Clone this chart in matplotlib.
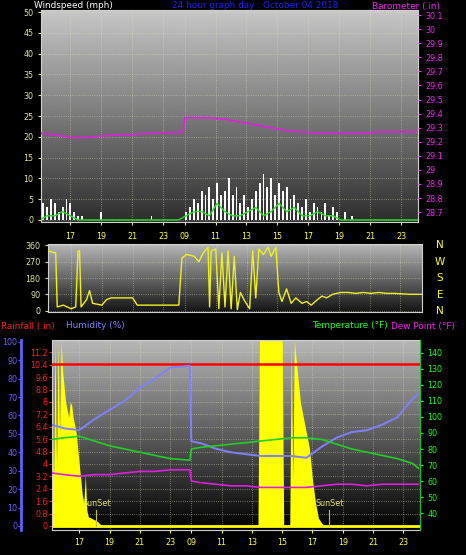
import numpy as np
import matplotlib
matplotlib.use("Agg")
import matplotlib.pyplot as plt

# ---------------- data ----------------
tick_pos = [0, 2, 4, 6, 7.4, 9.4, 11.4, 13.4, 15.4, 17.4, 19.4, 21.4]
tick_lbl = ["17", "19", "21", "23", "09", "11", "13", "15", "17", "19", "21", "23"]
baro_ticks = [28.7, 28.8, 28.9, 29.0, 29.1, 29.2, 29.3, 29.4, 29.5, 29.6, 29.7, 29.8, 29.9, 30.0, 30.1]
baro_lbls = ["28.7", "28.8", "28.9", "29", "29.1", "29.2", "29.3", "29.4", "29.5", "29.6", "29.7",
             "29.8", "29.9", "30", "30.1"]
rain_ticks = [0, 0.8, 1.6, 2.4, 3.2, 4.0, 4.8, 5.6, 6.4, 7.2, 8.0, 8.8, 9.6, 10.4, 11.2]
rain_lbls = ["0", "0.8", "1.6", "2.4", "3.2", "4", "4.8", "5.6", "6.4", "7.2", "8", "8.8", "9.6",
             "10.4", "11.2"]

wind_t = np.arange(-2.0, 22.51, 0.25)
gust = [0,4,3,5, 4,2,3,5, 4,2,1,1, 0,0,0,0, 2,0,0,0, 0,0,0,0, 0,0,0,0, 0,1,0,0,
        0,0,0,0, 0,0,2,3, 5,4,7,6, 8,5,9,6, 7,10,6,8, 4,6,3,5, 7,9,11,8, 10,6,9,7,
        8,5,6,4, 3,5,2,4, 3,2,4,1, 3,2,0,2, 0,1,0,0, 0,0,0,0, 0,0,0,0, 0,0,0,0, 0,0,0]
avg_t = np.arange(-2.0, 22.51, 0.5)
avg = [0,1,1,2,1,0,0,0,0,0,0,0,0,0,0,0,0,0,0,1,2,2,1,4,2,1,1,2,3,1,2,4,2,3,1,1,2,1,1,0,0,0,0,0,0,0,0,0,0,0]

baro_t = [-1.9,-1,0,1,2,3,4,5,6,7.3,7.4,8,9,10,11,12,13,14,15,16,17,18,19,20,21,22,22.6]
baro = [29.26,29.25,29.23,29.23,29.24,29.25,29.25,29.26,29.26,29.27,29.37,29.37,29.37,29.36,
        29.34,29.32,29.30,29.28,29.27,29.26,29.26,29.26,29.26,29.27,29.27,29.27,29.27]

dir_t = [-1.5,-1.1,-1.0,-0.9,-0.5,0,0.3,0.45,0.55,0.65,1,1.2,1.4,2,2.3,2.6,3,4,4.3,5,6,7,7.2,7.5,8,8.3,8.6,8.9,
         9,9.1,9.4,9.6,9.8,10,10.2,10.4,10.6,10.8,11,11.3,11.6,11.8,12,12.2,12.5,12.8,13,13.3,13.5,13.7,
         14,14.3,14.6,15,15.3,15.6,16,16.3,16.6,17,17.5,18,18.5,19,19.5,20,20.5,21,22,22.8]
wdir = [330,320,320,20,30,10,20,330,330,20,60,110,40,30,60,70,70,70,30,30,30,30,290,310,300,270,320,350,
        20,330,340,10,320,20,330,10,300,5,100,50,10,330,70,340,310,350,300,350,100,50,
        120,40,70,40,50,30,60,80,70,90,100,100,95,100,95,100,95,95,90,90]

bot_t = [-1.8,-1,0,1,2,3,4,5,6,7.3,7.4,8,9,10,11,12,13,14,15,16,17,18,19,20,21,22,22.4]
humidity = [55,53,52,58,63,68,75,80,86,87,46,45,42,40,39,38,38,38,37,43,48,51,52,55,59,69,72]
temperature = [86,87,88,85,82,80,78,76,74,73,80,81,82,83,84,85,86,87,87,86,83,80,78,76,74,71,68]
dewpoint = [65,64,63,64,64,65,66,66,67,67,60,59,58,57,57,56,56,56,56,57,58,58,57,58,58,58,58]
rainfall_line = 10.45

sun_t = [-1.8,-1.7,-1.6,-1.5,-1.4,-1.3,-1.2,-1.1,-1.0,-0.9,-0.8,-0.7,-0.6,-0.5,-0.4,-0.3,-0.2,-0.1,0,
         0.1,0.2,0.3,0.4,0.5,0.6,0.8,1.0,1.2,1.4,1.6,
         11.8,11.9,13.4,13.5,13.9,14.0,14.1,14.2,14.3,14.4,14.5,14.6,14.8,15.0,15.2,15.4,15.6,15.8,16.0,16.2]
sun = [12,3,12,4,12,6,12,10,9,8,7.5,7,8,7.8,7,6.5,6,5,4,3,2,1.5,3.3,1,0.6,0.5,0.4,0.3,0.1,0,
       0,12,12,0,0,12,3,12,11,10,9,8,7,6,5,3,1.5,0.5,0.2,0]
sunset = [1.1, 16.5]

# ---------------- figure ----------------
W, H = 466, 555
fig = plt.figure(figsize=(W/100, H/100), dpi=100, facecolor="black")
FS = 5.8
TFS = 6.4

def ax_rect(l, t, r, b):
    return [l/W, 1-b/H, (r-l)/W, (b-t)/H]

def gradient(ax, top, bot):
    g = np.linspace(bot, top, 256).reshape(-1, 1)
    ax.imshow(g, cmap="gray", vmin=0, vmax=1, aspect="auto", extent=[0, 1, 0, 1],
              origin="lower", transform=ax.transAxes, zorder=0)

def style(ax):
    for s in ax.spines.values():
        s.set_color("#d0d0d0")
    ax.grid(True, color="#e0e0c0", ls=":", lw=0.6, alpha=0.6)
    ax.set_facecolor("#888888")

# ---- top panel ----
ax1 = fig.add_axes(ax_rect(41, 10, 418, 222))
gradient(ax1, 0.78, 0.18)
ax1.bar(wind_t, gust, width=0.12, color="white", zorder=2)
ax1.plot(avg_t, avg, color="#20e020", lw=1, zorder=3)
ax1.set_xlim(-1.9, 22.5)
ax1.set_ylim(-0.5, 50.5)
ax1.set_yticks(range(0, 51, 5))
ax1.set_xticks(tick_pos)
ax1.tick_params(axis="y", colors="#e0e0a0", labelsize=FS, length=2)
ax1.tick_params(axis="x", colors="#e0e0a0", labelsize=FS, length=2, labelbottom=False)
style(ax1)
axb = ax1.twinx()
axb.plot(baro_t, baro, color="#e020e0", lw=1.2)
axb.set_ylim(28.63, 30.136)
axb.set_yticks(baro_ticks)
axb.set_yticklabels(baro_lbls)
axb.tick_params(axis="y", colors="#ff20ff", labelsize=FS, length=2)
for s in axb.spines.values():
    s.set_visible(False)
for x, l in zip(tick_pos, tick_lbl):
    ax1.text(x, -0.07, l, transform=ax1.get_xaxis_transform(), color="#ffff40",
             fontsize=FS, ha="center", va="center")
fig.text(34/W, 1-6/H, "Windspeed (mph)", color="white", fontsize=TFS, va="center")
fig.text(172/W, 1-6/H, "24 hour graph day : October 04 2018", color="#2020ff", fontsize=TFS, va="center")
fig.text(372/W, 1-6/H, "Barometer (.in)", color="#ff20ff", fontsize=TFS, va="center")

# ---- middle panel ----
ax2 = fig.add_axes(ax_rect(48, 244, 422, 312))
gradient(ax2, 0.72, 0.08)
ax2.plot(dir_t, wdir, color="#f0f020", lw=1, zorder=3)
ax2.set_xlim(-1.5, 22.8)
ax2.set_ylim(-8, 368)
ax2.set_yticks([0, 90, 180, 270, 360])
ax2.set_xticks(tick_pos)
ax2.tick_params(axis="y", colors="#e0e0a0", labelsize=FS, length=2)
ax2.tick_params(axis="x", labelbottom=False, length=0)
style(ax2)
for i, l in enumerate(["N", "W", "S", "E", "N"]):
    fig.text(440/W, 1-(245+i*16.5)/H, l, color="#ffff20", fontsize=7.5, ha="center", va="center")

# ---- bottom panel ----
ax3 = fig.add_axes(ax_rect(52, 340, 420, 530))
gradient(ax3, 0.72, 0.0)
ax3.set_xlim(-1.8, 22.5)
ax3.set_ylim(-0.26, 12)
ax3.fill_between(sun_t, 0, sun, color="#ffff00", lw=0, zorder=2)
ax3.axhline(0, color="#ffff00", lw=2, zorder=2)
ax3.axhline(rainfall_line, color="#ff0000", lw=1.8, zorder=5)
for s in sunset:
    ax3.plot([s, s], [0, 1.0], color="#c0c040", lw=0.8, zorder=3)
    ax3.text(s - 0.9, 1.3, "SunSet", color="#e0e070", fontsize=FS, zorder=6)
ax3.set_yticks(rain_ticks)
ax3.set_yticklabels(rain_lbls)
ax3.set_xticks(tick_pos)
ax3.set_xticklabels(tick_lbl)
ax3.tick_params(axis="y", colors="#ff2020", labelsize=FS, length=2, pad=1)
ax3.tick_params(axis="x", colors="#ffff40", labelsize=FS, length=2)
style(ax3)
axh = ax3.twinx()
axh.plot(bot_t, humidity, color="#8080ff", lw=1.4, zorder=4)
axh.set_ylim(-2.2, 101)
axh.yaxis.set_ticks_position("left")
axh.spines["left"].set_position(("outward", 22))
axh.spines["left"].set_color("#6060ff")
axh.spines["left"].set_linewidth(2)
axh.set_yticks(range(0, 101, 10))
axh.tick_params(axis="y", colors="#6060ff", labelsize=FS, length=2, pad=1)
for k in ["right", "top", "bottom"]:
    axh.spines[k].set_visible(False)
axt = ax3.twinx()
axt.plot(bot_t, temperature, color="#20d020", lw=1.2)
axt.plot(bot_t, dewpoint, color="#e020e0", lw=1.2)
axt.set_ylim(29.4, 148.1)
axt.set_yticks(range(40, 141, 10))
axt.tick_params(axis="y", colors="#20ff20", labelsize=FS, length=2)
axt.spines["right"].set_color("#20c020")
for k in ["left", "top", "bottom"]:
    axt.spines[k].set_visible(False)
fig.text(1/W, 1-326/H, "Rainfall (.in)", color="#ff2020", fontsize=TFS, va="center")
fig.text(66/W, 1-326/H, "Humidity (%)", color="#8080ff", fontsize=TFS, va="center")
fig.text(312/W, 1-326/H, "Temperature (\u00b0F)", color="#20ff20", fontsize=TFS, va="center")
fig.text(391/W, 1-326/H, "Dew Point (\u00b0F)", color="#ff20ff", fontsize=TFS, va="center")

fig.savefig("out.png", dpi=100, facecolor="black")
